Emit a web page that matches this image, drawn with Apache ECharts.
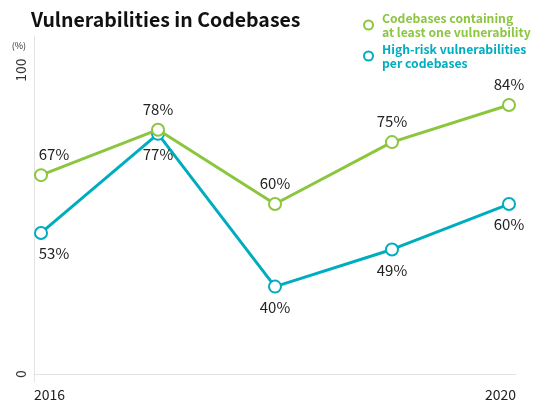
<!DOCTYPE html>
<html><head><meta charset="utf-8">
<script src="https://cdn.jsdelivr.net/npm/echarts@6/dist/echarts.min.js"></script>
<style>html,body{margin:0;padding:0;background:#fff}#c{width:538px;height:407px}</style>
</head><body><div id="c"></div>
<script>
const years = [2016, 2017, 2018, 2019, 2020];
const atLeastOne = [67, 78, 60, 75, 84];
const highRisk = [53, 77, 40, 49, 60];
const xTickLabels = ['2016', '2020'];
const yTickValues = [0, 100];
const seriesNames = ['Codebases containing\nat least one vulnerability', 'High-risk vulnerabilities\nper codebases'];
const colors = ['#8cc63f', '#00adbf'];
const FONT = '"Noto Sans CJK KR", "Noto Sans", sans-serif';

function mkData(vals) {
  return vals.map((v, i) => {
    const item = { value: [years[i], v] };
    if (i === 0) item.label = { offset: [13, 0] };
    return item;
  });
}
function mkSeries(idx, vals, pos) {
  return {
    name: seriesNames[idx], type: 'line', xAxisIndex: 0, yAxisIndex: 1,
    data: mkData(vals),
    symbol: 'emptyCircle', symbolSize: 12,
    lineStyle: { color: colors[idx], width: 3 },
    itemStyle: { color: colors[idx], borderWidth: 2.5, borderColor: colors[idx] },
    label: { show: true, position: pos, distance: 6, formatter: p => p.value[1] + '%',
      color: '#222', fontSize: 15, fontFamily: FONT },
    emphasis: { disabled: true }, animation: false, z: idx === 0 ? 3 : 2
  };
}
const chart = echarts.init(document.getElementById('c'));
chart.setOption({
  animation: false,
  title: { text: 'Vulnerabilities in Codebases', left: 26, top: 5,
    textStyle: { fontFamily: FONT, fontSize: 19.5, fontWeight: 'bold', color: '#111' } },
  legend: {
    orient: 'vertical', left: 358, top: 6, itemGap: 3, itemWidth: 9, itemHeight: 9,
    selectedMode: false,
    data: seriesNames.map((n, i) => ({ name: n, icon: 'circle',
      itemStyle: { color: '#fff', borderColor: colors[i], borderWidth: 2 },
      textStyle: { color: colors[i] } })),
    textStyle: { fontFamily: FONT, fontSize: 12.2, fontWeight: 'bold', lineHeight: 14, padding: [0, 0, 0, 4] }
  },
  grid: { left: 34, right: 22, top: 36, bottom: 25 },
  xAxis: {
    type: 'value', min: 2015.94, max: 2020.06,
    splitLine: { show: false }, axisTick: { show: false },
    axisLine: { show: true, lineStyle: { color: '#e3e3e3', width: 1 } },
    axisLabel: { customValues: [2015.94, 2020.06], formatter: (v) => v < 2018 ? xTickLabels[0] : xTickLabels[1],
      alignMinLabel: 'left', alignMaxLabel: 'right', margin: 6,
      color: '#222', fontSize: 14, fontFamily: FONT }
  },
  yAxis: [
    { type: 'value', min: -2.6, max: 111.2, position: 'left',
      splitLine: { show: false }, axisTick: { show: false },
      axisLine: { show: true, lineStyle: { color: '#e3e3e3', width: 1 } },
      axisLabel: { customValues: yTickValues, rotate: 90, margin: 6, color: '#333', fontSize: 14, fontFamily: FONT },
      name: '(%)', nameLocation: 'end', nameGap: -10,
      nameTextStyle: { fontSize: 9, color: '#333', align: 'right', verticalAlign: 'middle', padding: [0, 8, 0, 0], fontFamily: FONT }
    },
    { type: 'value', min: 16.9, max: 100.7, show: false, splitLine: { show: false } }
  ],
  series: [ mkSeries(0, atLeastOne, 'top'), mkSeries(1, highRisk, 'bottom') ]
});
</script></body></html>
